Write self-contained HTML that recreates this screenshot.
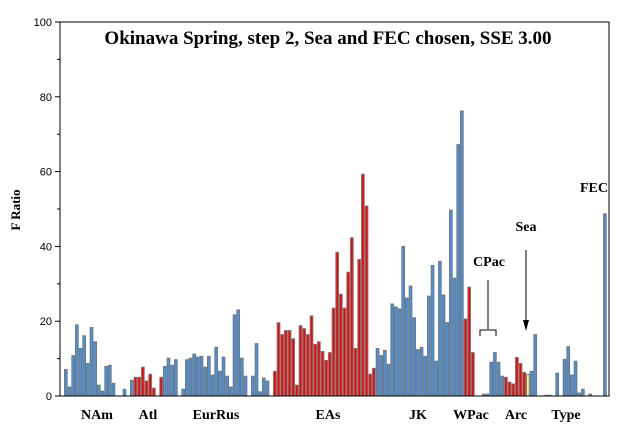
<!DOCTYPE html>
<html><head><meta charset="utf-8"><style>
body{margin:0;background:#fff}
svg{display:block}
text{font-family:"Liberation Serif",serif;font-weight:bold}
.tick{font-family:"Liberation Sans",sans-serif;font-weight:normal;font-size:11px}
</style></head><body>
<svg id="chart" width="628" height="430" viewBox="0 0 628 430" xmlns="http://www.w3.org/2000/svg">
<rect width="628" height="430" fill="#fff"/>
<g id="bars"></g>
<g id="axes"></g>
<text x="328" y="44" text-anchor="middle" font-size="19">Okinawa Spring, step 2, Sea and FEC chosen, SSE 3.00</text>
<text transform="translate(20,210) rotate(-90)" text-anchor="middle" font-size="13">F Ratio</text>
<g><text x="594" y="192" text-anchor="middle" font-size="14">FEC</text></g>
<g>
<text x="526" y="231" text-anchor="middle" font-size="14">Sea</text>
<line x1="526" y1="250" x2="526" y2="322" stroke="#000" stroke-width="1"/>
<polygon points="523,320 529,320 526,331" fill="#000"/>
</g>
<g>
<text x="489" y="266" text-anchor="middle" font-size="14">CPac</text>
<line x1="488" y1="280" x2="488" y2="329" stroke="#000"/>
<path d="M480,336 V330 H496 V336" fill="none" stroke="#000"/>
</g>
<g id="groups"></g>
</svg>
<script>
const categories = Array.from({length:147},(_, i)=>'s'+(i+1));
const values = [7.1,2.4,10.8,19,12.7,16.1,8.7,18.3,14.5,2.9,1.3,7.9,8.2,3.4,0,0,1.8,0,4.2,5,5,7.7,4,5.8,2.1,0,5,7.9,10.1,8.2,9.7,0,1.8,9.7,10.1,11.2,10.4,10.6,7.7,10.6,5.6,13,6.6,10.4,5.3,2.4,21.7,23,10.1,5.3,0,5.3,14,
1.1,4.8,4.0,0,6.6,19.6,16.4,17.5,17.5,15.3,2.9,18.8,18,16.4,21.4,13.8,14.5,11.9,9.5,11.6,23.5,38.4,27.2,23.5,33.1,42.3,12.7,36.5,59.3,50.8,5.8,7.4,12.7,10.8,
12.2,8.5,24.6,23.8,23.3,40,26.2,29.4,20.9,12.4,13,10.6,26.7,34.9,9.3,36,27,19.6,49.7,31.5,67.2,76.2,20.6,29.1,11.6,0,0,0.5,0.5,9,11.6,9,
5.3,5,3.7,3.2,10.3,8.7,6.3,5.8,6.6,16.4,0,0,0.2,0.2,0,6.1,0,9.8,13.2,5.6,9.3,0.8,1.8,0,0.5,0,0,0,48.7];
// 1-based indices of bars drawn red / yellow; all others blue
const redBars = [20,21,22,23,24,25,27,58,59,60,61,62,63,64,65,66,67,68,69,70,71,72,73,74,75,76,77,78,79,80,81,82,83,84,85,110,111,112,121,122,123,124,125,126];
const yellowBars = [127,147];
const yTicks = [0,20,40,60,80,100];
const groupLabels = ['NAm','Atl','EurRus','EAs','JK','WPac','Arc','Type'];
const groupCenters = [97,148,216,328,418,471,516,566];

const NS='http://www.w3.org/2000/svg';
const X0=60,X1=609,Y0=396,Y1=22,firstX=64,pitch=3.667;
const y = v => Y0 - (v/100)*(Y0-Y1);
const x = i => firstX + i*pitch;
function mk(tag,attrs,parent){const e=document.createElementNS(NS,tag);for(const k in attrs)e.setAttribute(k,attrs[k]);parent.appendChild(e);return e;}
const bars=document.getElementById('bars');
values.forEach((v,i)=>{
  if(v<=0) return;
  const n=i+1;
  const col = redBars.includes(n)?'#ff0000':(yellowBars.includes(n)?'#ffff66':'#3f93ec');
  const r=mk('rect',{x:x(i)+0.5,y:y(v),width:pitch-1,height:Math.max(Y0-y(v),0.5),fill:col,stroke:'#777','stroke-width':1},bars);
  
  
});
const ax=document.getElementById('axes');
mk('path',{d:`M${X0},${Y1} V${Y0} H${X1} V${Y1} Z`,fill:'none',stroke:'#000','stroke-width':1},ax);
for(let t=0;t<=100;t+=10){
  const yy=y(t);
  mk('line',{x1:X0-(t%20===0?5:3),x2:X0,y1:yy,y2:yy,stroke:'#000'},ax);
}
yTicks.forEach(t=>{
  const tx=mk('text',{x:X0-8,y:y(t)+4,'text-anchor':'end',class:'tick'},ax);
  tx.textContent=t;
  
  
});
const g=document.getElementById('groups');
groupLabels.forEach((l,i)=>{
  const tx=mk('text',{x:groupCenters[i],y:419,'text-anchor':'middle','font-size':14},g);
  tx.textContent=l;
  
  
});
</script>
</body></html>
